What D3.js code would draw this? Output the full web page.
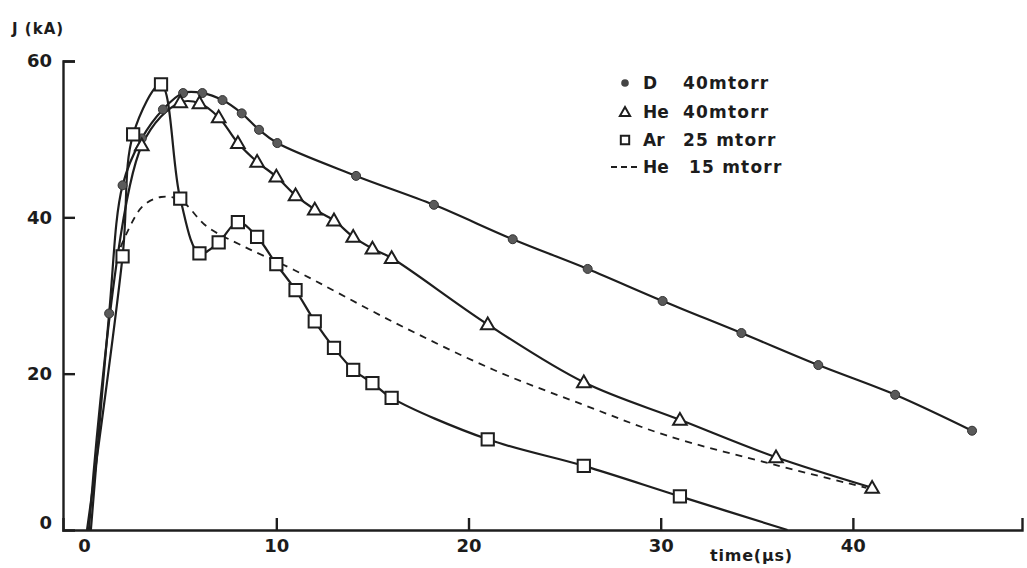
<!DOCTYPE html>
<html>
<head>
<meta charset="utf-8">
<script src="https://cdn.jsdelivr.net/npm/d3@7"></script>
<style>
    body { margin: 0; background: #fff; }
    svg { display: block; }
    text { font-family: "DejaVu Sans", sans-serif; fill: #1c1c1c; }
</style>
</head>
<body>
<svg id="chart" width="1027" height="568"></svg>
<script>
// D 40 mtorr (filled circles)
var dTime = [1.3, 2.0, 3.0, 4.1, 5.15, 6.15, 7.2, 8.2, 9.1, 10.05, 14.15, 18.2, 22.3, 26.2, 30.1, 34.2, 38.2, 42.2, 46.2];
var dCurrent = [27.7, 44.1, 50.1, 53.8, 55.9, 55.9, 55.0, 53.3, 51.2, 49.5, 45.3, 41.6, 37.2, 33.4, 29.3, 25.2, 21.1, 17.3, 12.7];

// He 40 mtorr (open triangles)
var heTime = [3, 5, 6, 7, 8, 9, 10, 11, 12, 13, 14, 15, 16, 21, 26, 31, 36, 41];
var heCurrent = [49.2, 54.7, 54.6, 52.8, 49.5, 47.1, 45.2, 42.8, 41.0, 39.6, 37.5, 36.0, 34.8, 26.3, 18.9, 14.1, 9.3, 5.4];

// Ar 25 mtorr (open squares)
var arTime = [2, 2.55, 4, 5, 6, 7, 8, 9, 10, 11, 12, 13, 14, 15, 16, 21, 26, 31];
var arCurrent = [35, 50.6, 57, 42.4, 35.4, 36.8, 39.4, 37.5, 34, 30.7, 26.7, 23.3, 20.5, 18.8, 16.9, 11.6, 8.2, 4.3];

// He 15 mtorr (dashed, no markers)
var he15Time = [1.9, 3, 4, 5, 6.4, 8.2, 10.9, 16.1, 21.3, 26, 30.3, 36, 40.7];
var he15Current = [36.2, 41.3, 42.6, 42.2, 38.8, 36.4, 33.3, 26.6, 20.5, 16, 12.1, 8.3, 5.4];

// time where the current starts (D, He 40, Ar) and where Ar falls back to zero
var onsetTime = [0.35, 0.25, 0.15];
var arZeroTime = 36.6;

var xTicks = [0, 10, 20, 30, 40];
var yTicks = [0, 20, 40, 60];
var legendGas = ["D", "He", "Ar", "He"];
var legendPressure = ["40mtorr", "40mtorr", "25 mtorr", "15 mtorr"];

function drawChart() {
    'use strict';
    /*global d3*/

    var svg = d3.select("#chart"),
        ink = "#1e1e1e",
        x = d3.scaleLinear().domain([-1.1, 48.8]).range([63, 1022]),
        y = d3.scaleLinear().domain([0, 60]).range([530, 61]),
        line = d3.line()
            .x(function (d) { return x(d[0]); })
            .y(function (d) { return y(d[1]); })
            .curve(d3.curveCatmullRom.alpha(0.5)),
        zip = function (ts, js) { return ts.map(function (t, i) { return [t, js[i]]; }); },
        dPts = zip(dTime, dCurrent),
        hePts = zip(heTime, heCurrent),
        arPts = zip(arTime, arCurrent),
        he15Pts = zip(he15Time, he15Current),
        xAxis,
        yAxis,
        legend;

    //
    // Axes: ticks point inwards, labels outside.
    //
    xAxis = svg.append("g")
        .attr("transform", "translate(0," + y(0) + ")")
        .call(d3.axisBottom(x).tickValues(xTicks).tickSize(-12).tickSizeOuter(-12).tickPadding(9));
    yAxis = svg.append("g")
        .attr("transform", "translate(" + x(-1.1) + ",0)")
        .call(d3.axisLeft(y).tickValues(yTicks).tickSize(-12).tickSizeOuter(-12).tickPadding(11));

    [xAxis, yAxis].forEach(function (ax) {
        ax.selectAll("path, line").attr("stroke", ink).attr("stroke-width", 2.4);
        ax.selectAll("text")
            .style("font-size", "18px")
            .style("font-weight", "bold")
            .attr("fill", ink);
    });
    yAxis.selectAll(".tick line").filter(function (d) { return d === 0; }).remove();
    yAxis.selectAll(".tick text").filter(function (d) { return d === 0; }).attr("dy", "-0.1em");
    xAxis.selectAll(".tick line").filter(function (d) { return d === 0; }).remove();

    svg.append("text")
        .attr("x", 12).attr("y", 34)
        .style("font-size", "15px").style("font-weight", "bold")
        .attr("letter-spacing", "1")
        .text("J (kA)");
    svg.append("text")
        .attr("x", 710).attr("y", 561)
        .style("font-size", "16px").style("font-weight", "bold")
        .attr("letter-spacing", "0.8")
        .text("time(µs)");

    //
    // Curves.
    //
    svg.append("path")
        .datum([[onsetTime[0], 0]].concat(dPts))
        .attr("d", line).attr("fill", "none").attr("stroke", ink).attr("stroke-width", 2.2);
    svg.append("path")
        .datum([[onsetTime[1], 0]].concat(hePts))
        .attr("d", line).attr("fill", "none").attr("stroke", ink).attr("stroke-width", 2.2);
    svg.append("path")
        .datum([[onsetTime[2], 0]].concat(arPts, [[arZeroTime, 0]]))
        .attr("d", line).attr("fill", "none").attr("stroke", ink).attr("stroke-width", 2.2);
    svg.append("path")
        .datum(he15Pts)
        .attr("d", line).attr("fill", "none").attr("stroke", ink)
        .attr("stroke-width", 1.8).attr("stroke-dasharray", "7,6");

    //
    // Markers.
    //
    svg.append("g").selectAll("circle")
        .data(dPts).enter().append("circle")
        .attr("cx", function (d) { return x(d[0]); })
        .attr("cy", function (d) { return y(d[1]); })
        .attr("r", 4.5)
        .attr("fill", "#5a5a5a").attr("stroke", "#333").attr("stroke-width", 1);
    svg.append("g").selectAll("path")
        .data(hePts).enter().append("path")
        .attr("d", d3.symbol(d3.symbolTriangle, 80))
        .attr("transform", function (d) { return "translate(" + x(d[0]) + "," + (y(d[1]) + 1) + ")"; })
        .attr("fill", "#fff").attr("stroke", ink).attr("stroke-width", 2);
    svg.append("g").selectAll("path")
        .data(arPts).enter().append("path")
        .attr("d", d3.symbol(d3.symbolSquare, 150))
        .attr("transform", function (d) { return "translate(" + x(d[0]) + "," + y(d[1]) + ")"; })
        .attr("fill", "#fff").attr("stroke", ink).attr("stroke-width", 2);

    //
    // Legend.
    //
    legend = svg.append("g").selectAll("g")
        .data(legendGas).enter().append("g")
        .attr("transform", function (d, i) { return "translate(0," + [83, 112, 140, 167][i] + ")"; });
    legend.append("text")
        .attr("x", 643).attr("dy", "0.36em")
        .style("font-size", "17px").style("font-weight", "bold")
        .text(function (d) { return d; });
    legend.append("text")
        .attr("x", function (d, i) { return i === 3 ? 689 : 683; }).attr("dy", "0.36em")
        .style("font-size", "17px").style("font-weight", "bold")
        .attr("letter-spacing", "1.2")
        .text(function (d, i) { return legendPressure[i]; });
    legend.filter(function (d, i) { return i === 0; }).append("circle")
        .attr("cx", 625).attr("r", 3.8).attr("fill", "#444");
    legend.filter(function (d, i) { return i === 1; }).append("path")
        .attr("d", d3.symbol(d3.symbolTriangle, 45))
        .attr("transform", "translate(625,1)")
        .attr("fill", "#fff").attr("stroke", ink).attr("stroke-width", 2);
    legend.filter(function (d, i) { return i === 2; }).append("path")
        .attr("d", d3.symbol(d3.symbolSquare, 70))
        .attr("transform", "translate(625,0)")
        .attr("fill", "#fff").attr("stroke", ink).attr("stroke-width", 2);
    legend.filter(function (d, i) { return i === 3; }).append("line")
        .attr("x1", 611).attr("x2", 637)
        .attr("stroke", ink).attr("stroke-width", 1.8).attr("stroke-dasharray", "6,4");
}

drawChart();
</script>
</body>
</html>
